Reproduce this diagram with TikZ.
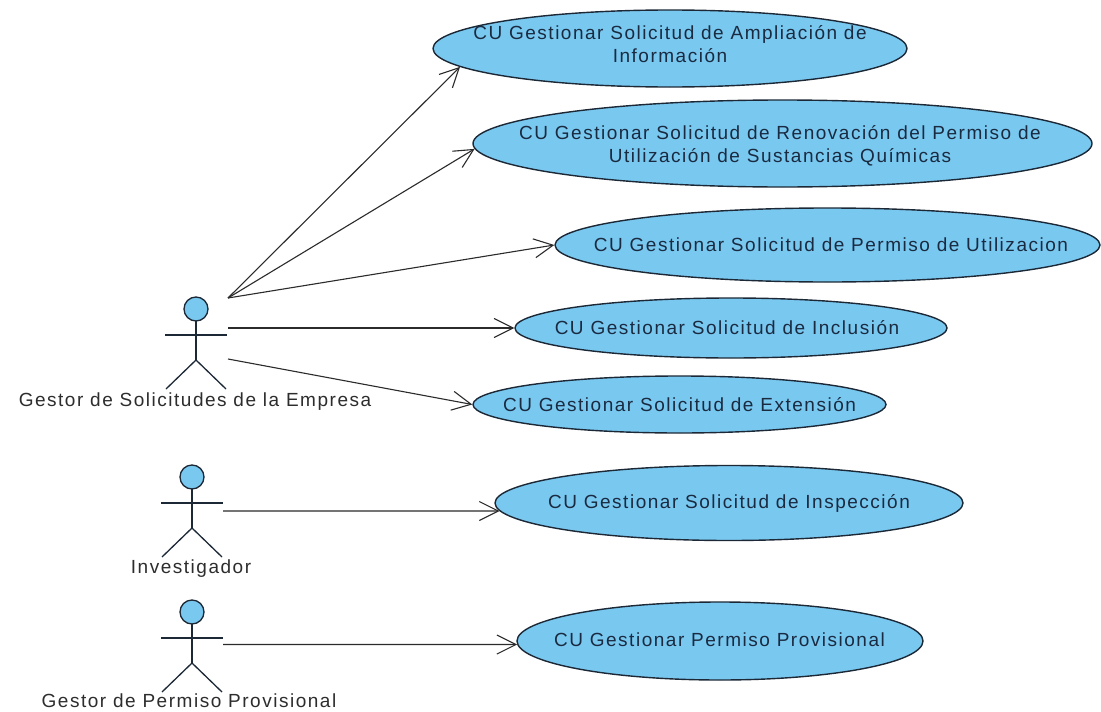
\documentclass[tikz,border=0pt]{standalone}
\usepackage{fontspec}
\setmainfont{Liberation Sans}[LetterSpace=8]
\usetikzlibrary{arrows.meta,shapes.geometric}

\definecolor{ucfill}{RGB}{121,200,240}
\definecolor{ucborder}{RGB}{28,40,54}
\definecolor{uctextcol}{RGB}{26,42,64}
\definecolor{linecol}{RGB}{43,43,43}
\definecolor{labelcol}{RGB}{45,45,45}

\tikzset{
  uc/.style={ellipse, draw=ucborder, fill=ucfill, line width=1.4pt, inner sep=0pt},
  uctext/.style={text=uctextcol, align=center, inner sep=0pt,
    font=\fontsize{19}{23}\selectfont},
  actorlabel/.style={text=labelcol, inner sep=0pt, font=\fontsize{19}{23}\selectfont},
  actorline/.style={draw=ucborder, line width=1.3pt},
  assoc/.style={draw=linecol, line width=1.1pt,
    -{Straight Barb[length=19pt, width=19pt, line width=1.1pt]}},
  actor/.pic={
    \draw[actorline, fill=ucfill] (0,0) circle[radius=12];
    \draw[actorline] (0,12) -- (0,51);
    \draw[actorline] (-31,26) -- (31,26);
    \draw[actorline] (-30,80) -- (0,51) -- (30,80);
  }
}

\begin{document}
\begin{tikzpicture}[x=1pt, y=-1pt]
  \fill[white] (0,0) rectangle (1101,712);
  \useasboundingbox (0,0) rectangle (1101,712);

  % use cases
  \node[uc, minimum width=474pt, minimum height=77pt] (e1) at (670,48.5) {};
  \node[uc, minimum width=619pt, minimum height=87pt] (e2) at (782.5,143.5) {};
  \node[uc, minimum width=545pt, minimum height=74pt] (e3) at (827.5,245) {};
  \node[uc, minimum width=432pt, minimum height=60pt] (e4) at (731,328) {};
  \node[uc, minimum width=413pt, minimum height=57pt] (e5) at (679.5,404.5) {};
  \node[uc, minimum width=468pt, minimum height=75pt] (e6) at (729,503) {};
  \node[uc, minimum width=406pt, minimum height=78pt] (e7) at (720,641) {};

  \node[uctext] (t1) at (670,44) {CU Gestionar Solicitud de Ampliación de\\Información};
  \node[uctext] (t2) at (780,146) {CU Gestionar Solicitud de Renovación del Permiso de\\Utilización de Sustancias Químicas};
  \node[uctext] (t3) at (831,245) {CU Gestionar Solicitud de Permiso de Utilizacion};
  \node[uctext] (t4) at (727,328) {CU Gestionar Solicitud de Inclusión};
  \node[uctext] (t5) at (679.5,405) {CU Gestionar Solicitud de Extensión};
  \node[uctext] (t6) at (729,503) {CU Gestionar Solicitud de Inspección};
  \node[uctext] (t7) at (719.5,640) {CU Gestionar Permiso Provisional};

  % actors
  \pic at (196,309) {actor};
  \pic at (192,477) {actor};
  \pic at (192,612) {actor};

  \node[actorlabel] (l1) at (195,402) {Gestor de Solicitudes de la Empresa};
  \node[actorlabel] (l2) at (191,569) {Investigador};
  \node[actorlabel] (l3) at (189,701) {Gestor de Permiso Provisional};

  % connector ends on the actors
  \coordinate (a1p) at (228,298);
  \coordinate (a1q) at (228,328);
  \coordinate (a1r) at (228,359);
  \coordinate (a2h) at (223,511);
  \coordinate (a3h) at (223,644.5);

  % associations
  \draw[assoc] (a1p) -- (e1.185);
  \draw[assoc] (a1p) -- (e2.181);
  \draw[assoc] (a1p) -- (e3.west);
  \draw[assoc] (a1q) -- (e4.west);
  \draw[assoc] (a1r) -- (e5.west);
  \draw[assoc] (a2h) -- (e6.182);
  \draw[assoc] (a3h) -- (e7.181);
\end{tikzpicture}
\end{document}
